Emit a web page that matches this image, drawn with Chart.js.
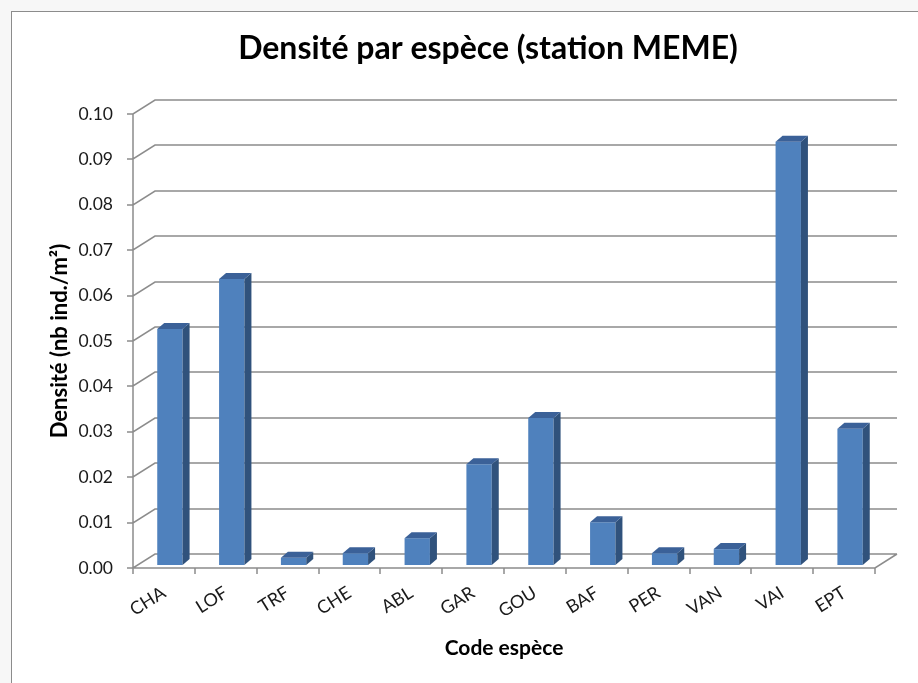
<!DOCTYPE html>
<html>
<head>
<meta charset="utf-8">
<script src="https://cdn.jsdelivr.net/npm/chart.js@4.4.0/dist/chart.umd.min.js"></script>
<style>
  html, body { margin: 0; padding: 0; background: #fff; }
  canvas { display: block; }
</style>
</head>
<body>
<canvas id="densiteChart" width="918" height="683"></canvas>
<script>
// Données
const categories = ['CHA', 'LOF', 'TRF', 'CHE', 'ABL', 'GAR', 'GOU', 'BAF', 'PER', 'VAN', 'VAI', 'EPT'];
const densite = [0.052, 0.063, 0.0016, 0.0026, 0.0059, 0.0222, 0.0324, 0.0094, 0.0026, 0.0035, 0.0932, 0.030];
const yTicks = [0, 0.01, 0.02, 0.03, 0.04, 0.05, 0.06, 0.07, 0.08, 0.09, 0.10];

const titre = 'Densité par espèce (station MEME)';
const gridColor = '#8c8c8c';
const wallDx = 22, wallDy = 14;   // décalage du mur du fond
const barDx = 7, barDy = 6;       // profondeur des colonnes
const shiftX = 6, shiftY = -3;    // position des colonnes dans la profondeur

// fond, cadre et titre
const background = {
    id: 'background',
    beforeDraw(chart) {
        const ctx = chart.ctx;
        ctx.save();
        ctx.fillStyle = '#f7f7f7';
        ctx.fillRect(0, 0, chart.width, chart.height);
        ctx.fillStyle = '#ffffff';
        ctx.fillRect(11, 11, chart.width, chart.height);
        ctx.strokeStyle = '#8c8c8c';
        ctx.lineWidth = 1;
        ctx.strokeRect(11.5, 11.5, chart.width + 10, chart.height + 10);
        ctx.fillStyle = '#000';
        ctx.font = 'bold 32px Lato';
        ctx.textAlign = 'center';
        ctx.textBaseline = 'middle';
        ctx.fillText(titre, 488, 49);
        ctx.restore();
    }
};

// mur du fond, sol et colonnes en 3D
const pseudo3d = {
    id: 'pseudo3d',
    beforeDatasetsDraw(chart) {
        const ctx = chart.ctx;
        const xs = chart.scales.x, ys = chart.scales.y;
        const left = xs.left, right = xs.right;
        ctx.save();
        ctx.strokeStyle = gridColor;
        ctx.lineWidth = 1.5;
        ctx.beginPath();
        yTicks.forEach(v => {
            const y = Math.round(ys.getPixelForValue(v));
            ctx.moveTo(left - 6, y);
            ctx.lineTo(left, y);
            ctx.lineTo(left + wallDx, y - wallDy);
            ctx.lineTo(right + wallDx, y - wallDy);
        });
        // axe vertical
        ctx.moveTo(left, ys.top);
        ctx.lineTo(left, ys.bottom);
        // sol
        const y0 = Math.round(ys.getPixelForValue(0));
        ctx.moveTo(left, y0);
        ctx.lineTo(right, y0);
        ctx.lineTo(right + wallDx, y0 - wallDy);
        const step = (right - left) / categories.length;
        for (let i = 0; i <= categories.length; i++) {
            const x = Math.round(left + i * step);
            ctx.moveTo(x, y0);
            ctx.lineTo(x, y0 + 6);
        }
        ctx.stroke();
        ctx.restore();

        ctx.save();
        ctx.translate(shiftX, shiftY);
    },
    afterDatasetsDraw(chart) {
        const ctx = chart.ctx;
        const meta = chart.getDatasetMeta(0);
        meta.data.forEach(bar => {
            const l = bar.x - bar.width / 2, r = bar.x + bar.width / 2;
            // face latérale
            ctx.fillStyle = '#30527c';
            ctx.beginPath();
            ctx.moveTo(r, bar.y);
            ctx.lineTo(r + barDx, bar.y - barDy);
            ctx.lineTo(r + barDx, bar.base - barDy);
            ctx.lineTo(r, bar.base);
            ctx.closePath();
            ctx.fill();
            // dessus
            ctx.fillStyle = '#3b6198';
            ctx.beginPath();
            ctx.moveTo(l, bar.y);
            ctx.lineTo(l + barDx, bar.y - barDy);
            ctx.lineTo(r + barDx, bar.y - barDy);
            ctx.lineTo(r, bar.y);
            ctx.closePath();
            ctx.fill();
        });
        ctx.restore();
    }
};

const ctx = document.getElementById('densiteChart');
new Chart(ctx, {
    type: 'bar',
    data: {
        labels: categories,
        datasets: [{
            label: 'Densité',
            data: densite,
            backgroundColor: '#4f81bd',
            borderWidth: 0,
            categoryPercentage: 1,
            barPercentage: 0.41,
            clip: false
        }]
    },
    options: {
        responsive: false,
        animation: false,
        layout: {
            padding: { left: 47, right: 43, top: 114, bottom: 22 }
        },
        plugins: {
            legend: { display: false },
            tooltip: { enabled: false }
        },
        scales: {
            x: {
                grid: { display: false, drawTicks: false },
                border: { display: false },
                ticks: {
                    autoSkip: false,
                    minRotation: 32,
                    maxRotation: 32,
                    padding: 14,
                    color: '#1a1a1a',
                    font: { family: 'Lato', size: 18 }
                },
                title: {
                    display: true,
                    text: 'Code espèce',
                    color: '#000',
                    padding: 0,
                    font: { family: 'Lato', size: 21, weight: 'bold' }
                },
                afterFit(scale) { scale.height = 93; }
            },
            y: {
                min: 0,
                max: 0.1,
                grid: { display: false, drawTicks: false },
                border: { display: false },
                ticks: {
                    stepSize: 0.01,
                    padding: 20,
                    color: '#1a1a1a',
                    font: { family: 'Lato', size: 17.5 },
                    callback: v => v.toFixed(2)
                },
                title: {
                    display: true,
                    text: 'Densité (nb ind./m²)',
                    color: '#000',
                    padding: 0,
                    font: { family: 'Lato', size: 22, weight: 'bold' }
                },
                afterFit(scale) { scale.width = 86; }
            }
        }
    },
    plugins: [background, pseudo3d]
});
</script>
</body>
</html>
